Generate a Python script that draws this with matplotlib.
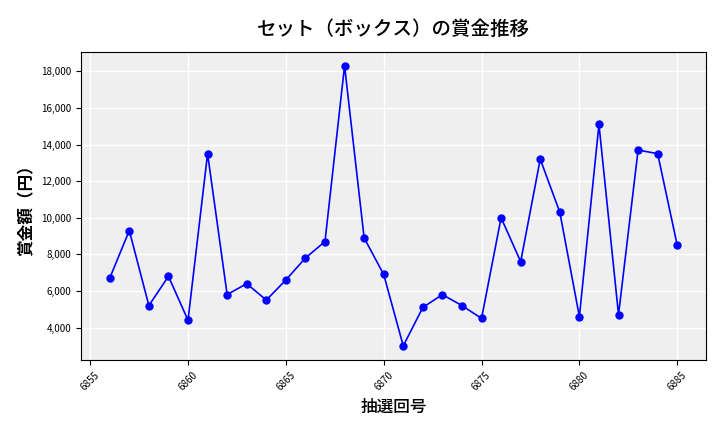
import matplotlib
matplotlib.use("Agg")
import matplotlib.pyplot as plt
from matplotlib.ticker import FuncFormatter

plt.rcParams['font.family'] = ['Noto Sans CJK JP', 'DejaVu Sans']

# 抽選回号と賞金額
draws = list(range(6856, 6886))
prize = [6700, 9300, 5200, 6800, 4400, 13500, 5800, 6400, 5500, 6600,
         7800, 8700, 18300, 8900, 6900, 3000, 5100, 5800, 5200, 4500,
         10000, 7600, 13200, 10300, 4600, 15100, 4700, 13700, 13500, 8500]

fig, ax = plt.subplots(figsize=(7.2, 4.32), dpi=100)
ax.set_facecolor("#efefef")
ax.grid(True, color="white", linewidth=1)
ax.set_axisbelow(True)

ax.plot(draws, prize, color="blue", marker="o", markersize=5, linewidth=1.2)

ax.set_title("セット（ボックス）の賞金推移", fontsize=14, fontweight="medium", pad=12)
ax.set_xlabel("抽選回号", fontsize=12, fontweight="medium")
ax.set_ylabel("賞金額（円）", fontsize=12, fontweight="bold")
ax.yaxis.set_major_formatter(FuncFormatter(lambda v, p: f"{int(v):,}"))
ax.tick_params(axis="both", labelsize=7)
plt.setp(ax.get_xticklabels(), rotation=45)

fig.subplots_adjust(left=0.113, right=0.98, top=0.88, bottom=0.167)
fig.savefig("out.png")
